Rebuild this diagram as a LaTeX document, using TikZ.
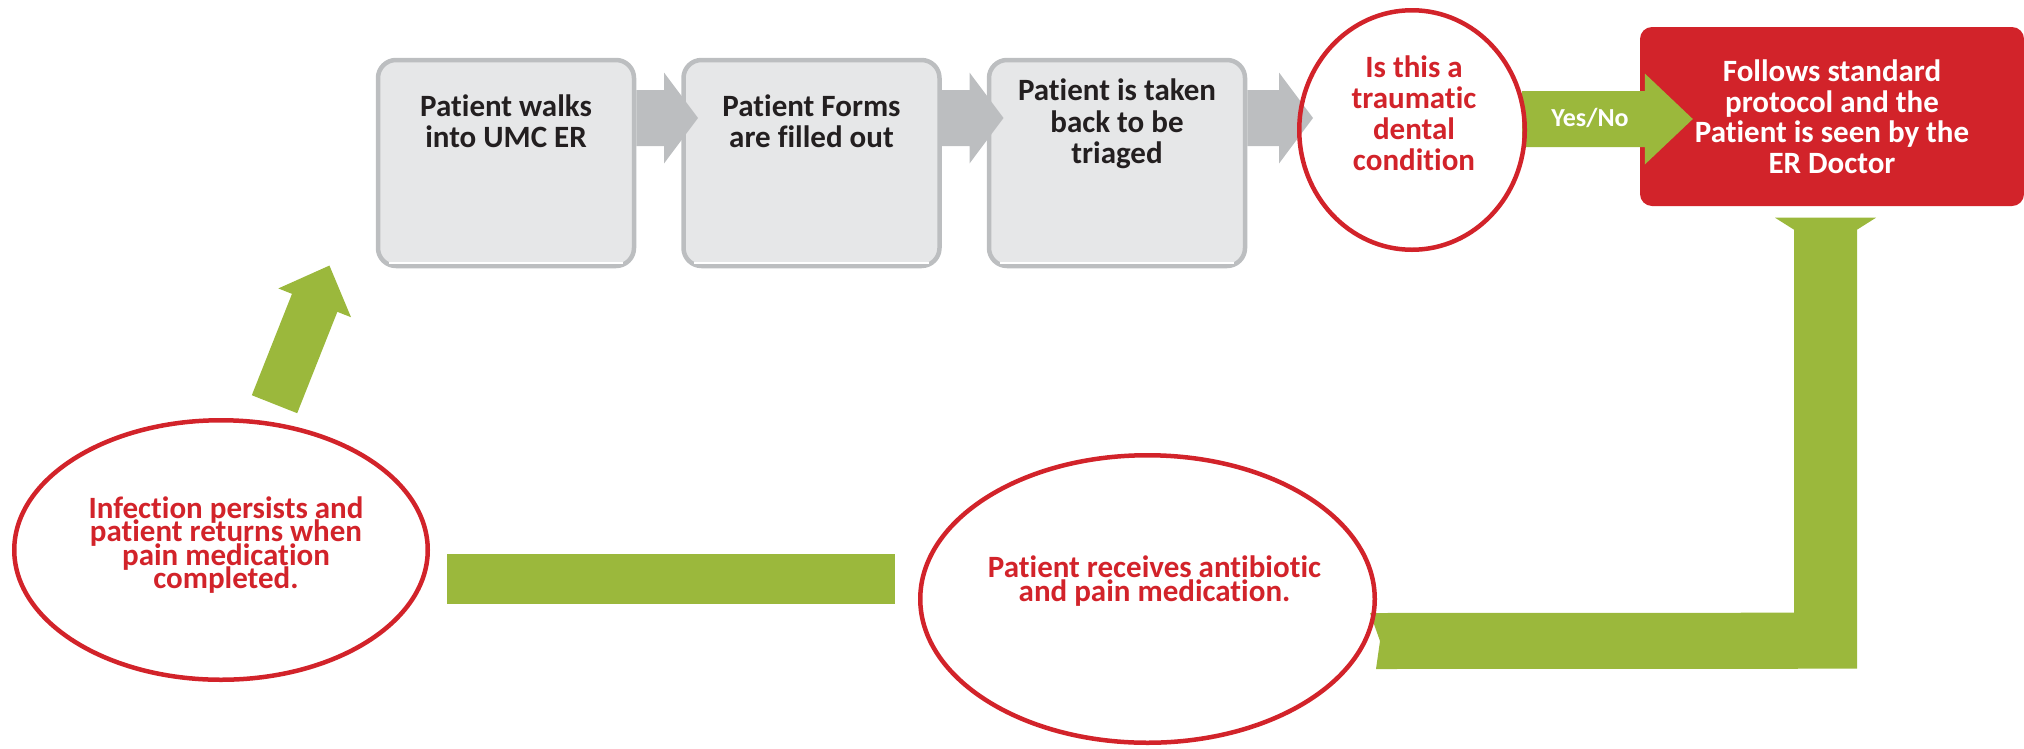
\documentclass[tikz,border=0pt]{standalone}
\usepackage{fontspec}
\setmainfont{Carlito}[Ligatures=NoCommon]
\usetikzlibrary{calc,shapes.geometric}
\pgfdeclarelayer{fg}
\pgfsetlayers{main,fg}
\definecolor{boxfill}{HTML}{E6E7E8}
\definecolor{boxline}{HTML}{BCBEC0}
\definecolor{arrgray}{HTML}{BCBEC0}
\definecolor{umcred}{HTML}{D2232A}
\definecolor{umcgreen}{HTML}{9BB83C}
\definecolor{darktext}{HTML}{231F20}
\newcommand{\tightlines}{\lineskiplimit=-100pt\relax}
% #1 tail, #2 tip, #3 shaft half width, #4 head half width, #5 head length, #6 colour
\newcommand{\blockarrow}[6]{%
  \coordinate (ba-h) at ($(#2)!#5!(#1)$);
  \fill[#6] ($(#1)!#3!90:(#2)$) -- ($(ba-h)!#3!90:(#2)$) -- ($(ba-h)!#4!90:(#2)$)
    -- (#2) -- ($(ba-h)!#4!-90:(#2)$) -- ($(ba-h)!#3!-90:(#2)$)
    -- ($(#1)!#3!-90:(#2)$) -- cycle;
}
\begin{document}
\begin{tikzpicture}[x=1pt,y=-1pt,
  graybox/.style={draw=boxline, line width=4.5pt, fill=boxfill, rounded corners=18pt,
    minimum width=256pt, minimum height=206pt, inner sep=0pt},
  bevel/.style={draw=white, line width=2pt},
  boxtext/.style={text=darktext, font=\fontsize{31}{31.5}\selectfont\bfseries,
    align=center, inner sep=0pt},
  redbox/.style={fill=umcred, rounded corners=12pt, minimum width=384pt,
    minimum height=179pt, inner sep=0pt, text=white,
    font=\fontsize{31}{30.5}\selectfont\bfseries, align=center},
  redell/.style={ellipse, draw=umcred, line width=4.5pt, inner sep=0pt},
  redtext/.style={text=umcred, font=\fontsize{31}{31}\selectfont\bfseries,
    align=center, inner sep=0pt},
  tighttext/.style={text=umcred, font=\fontsize{31}{23.5}\selectfont\bfseries\tightlines,
    align=center, inner sep=0pt},
  yesno/.style={text=white, font=\fontsize{26}{26}\selectfont\bfseries, inner sep=0pt}
]
\useasboundingbox (0,0) rectangle (2024,748);

% grey process boxes
\node[graybox] (b1) at (506,163) {};
\node[graybox] (b2) at (811.5,163) {};
\node[graybox] (b3) at (1117,163) {};
\foreach \b in {b1,b2,b3}
  \draw[bevel] ([xshift=13pt,yshift=5pt]\b.south west) -- ([xshift=-13pt,yshift=5pt]\b.south east);
\node[boxtext] (b1t) at ($(b1.center)+(0,-42)$) {Patient walks\\into UMC ER};
\node[boxtext] (b2t) at ($(b2.center)+(0,-42)$) {Patient Forms\\are filled out};
\node[boxtext] (b3t) at ($(b3.center)+(0,-39)$) {Patient is taken\\back to be\\triaged};

% red box
\node[redbox] (red) at (1832,116.5) {Follows standard\\protocol and the\\Patient is seen by the\\ER Doctor};

% ellipses (outlines on top layer)
\begin{pgfonlayer}{fg}
\node[redell, minimum width=225.5pt, minimum height=239.5pt] (q) at (1412,130) {};
\node[redell, minimum width=413.5pt, minimum height=259.5pt] (inf) at (221,550) {};
\node[redell, minimum width=454.5pt, minimum height=287.5pt] (rx) at (1147.5,599) {};
\node[redtext] (qt) at ($(q.center)+(2,-17)$) {Is this a\\traumatic\\dental\\condition};
\node[tighttext] (inft) at ($(inf.center)+(5,-5)$) {Infection persists and\\patient returns when\\pain medication\\completed.};
\node[tighttext] (rxt) at ($(rx.center)+(7,-18)$) {Patient receives antibiotic\\and pain medication.};
\end{pgfonlayer}

% grey arrows
\coordinate (a1s) at (b1.east |- 0,118);
\coordinate (a1e) at ($(b2.west |- 0,118)+(16.75,0)$);
\blockarrow{a1s}{a1e}{28pt}{45.5pt}{34pt}{arrgray}
\coordinate (a2s) at (b2.east |- 0,118);
\coordinate (a2e) at ($(b3.west |- 0,118)+(16.75,0)$);
\blockarrow{a2s}{a2e}{28pt}{45.5pt}{34pt}{arrgray}
\coordinate (a3s) at (b3.east |- 0,118);
\coordinate (a3e) at ($(q.west |- 0,118)+(16,0)$);
\blockarrow{a3s}{a3e}{28pt}{45.5pt}{34pt}{arrgray}

% Yes/No arrow
\coordinate (ynS) at ($(q.east |- 0,119)+(-5,0)$);
\coordinate (ynE) at ($(red.west |- 0,119)+(53,0)$);
\blockarrow{ynS}{ynE}{28pt}{45.5pt}{48pt}{umcgreen}
\node[yesno] (yn) at (1590,118) {Yes/No};

% L-shaped arrow from red box to prescription ellipse
\coordinate (Ltop) at ($(red.south)+(-6.5,11.5)$);
\coordinate (Lend) at ($(rx.east)+(-7,14)$);
\fill[umcgreen] ($(Ltop)+(-50.5,0)$) -- ($(Ltop)+(50.5,0)$) -- ($(Ltop)+(31.5,12)$)
  -- ($(Ltop)+(31.5,451)$) -- ($(Lend)+(6,56)$) -- ($(Lend)+(10,28)$) -- (Lend)
  -- ($(Ltop)+(-31.5,395)$) -- ($(Ltop)+(-31.5,12)$) -- cycle;

% bar between the two lower ellipses
\fill[umcgreen] ($(inf.east)+(17,4)$) rectangle ($(rx.west)+(-23,5)$);

% diagonal arrow back to the first box
\coordinate (dT) at ($(inf.center)+(53.5,-145.8)$);
\coordinate (dP) at ($(b1.south west)+(-46.3,-2.7)$);
\blockarrow{dT}{dP}{24.4pt}{39.1pt}{40.1pt}{umcgreen}
\end{tikzpicture}
\end{document}
